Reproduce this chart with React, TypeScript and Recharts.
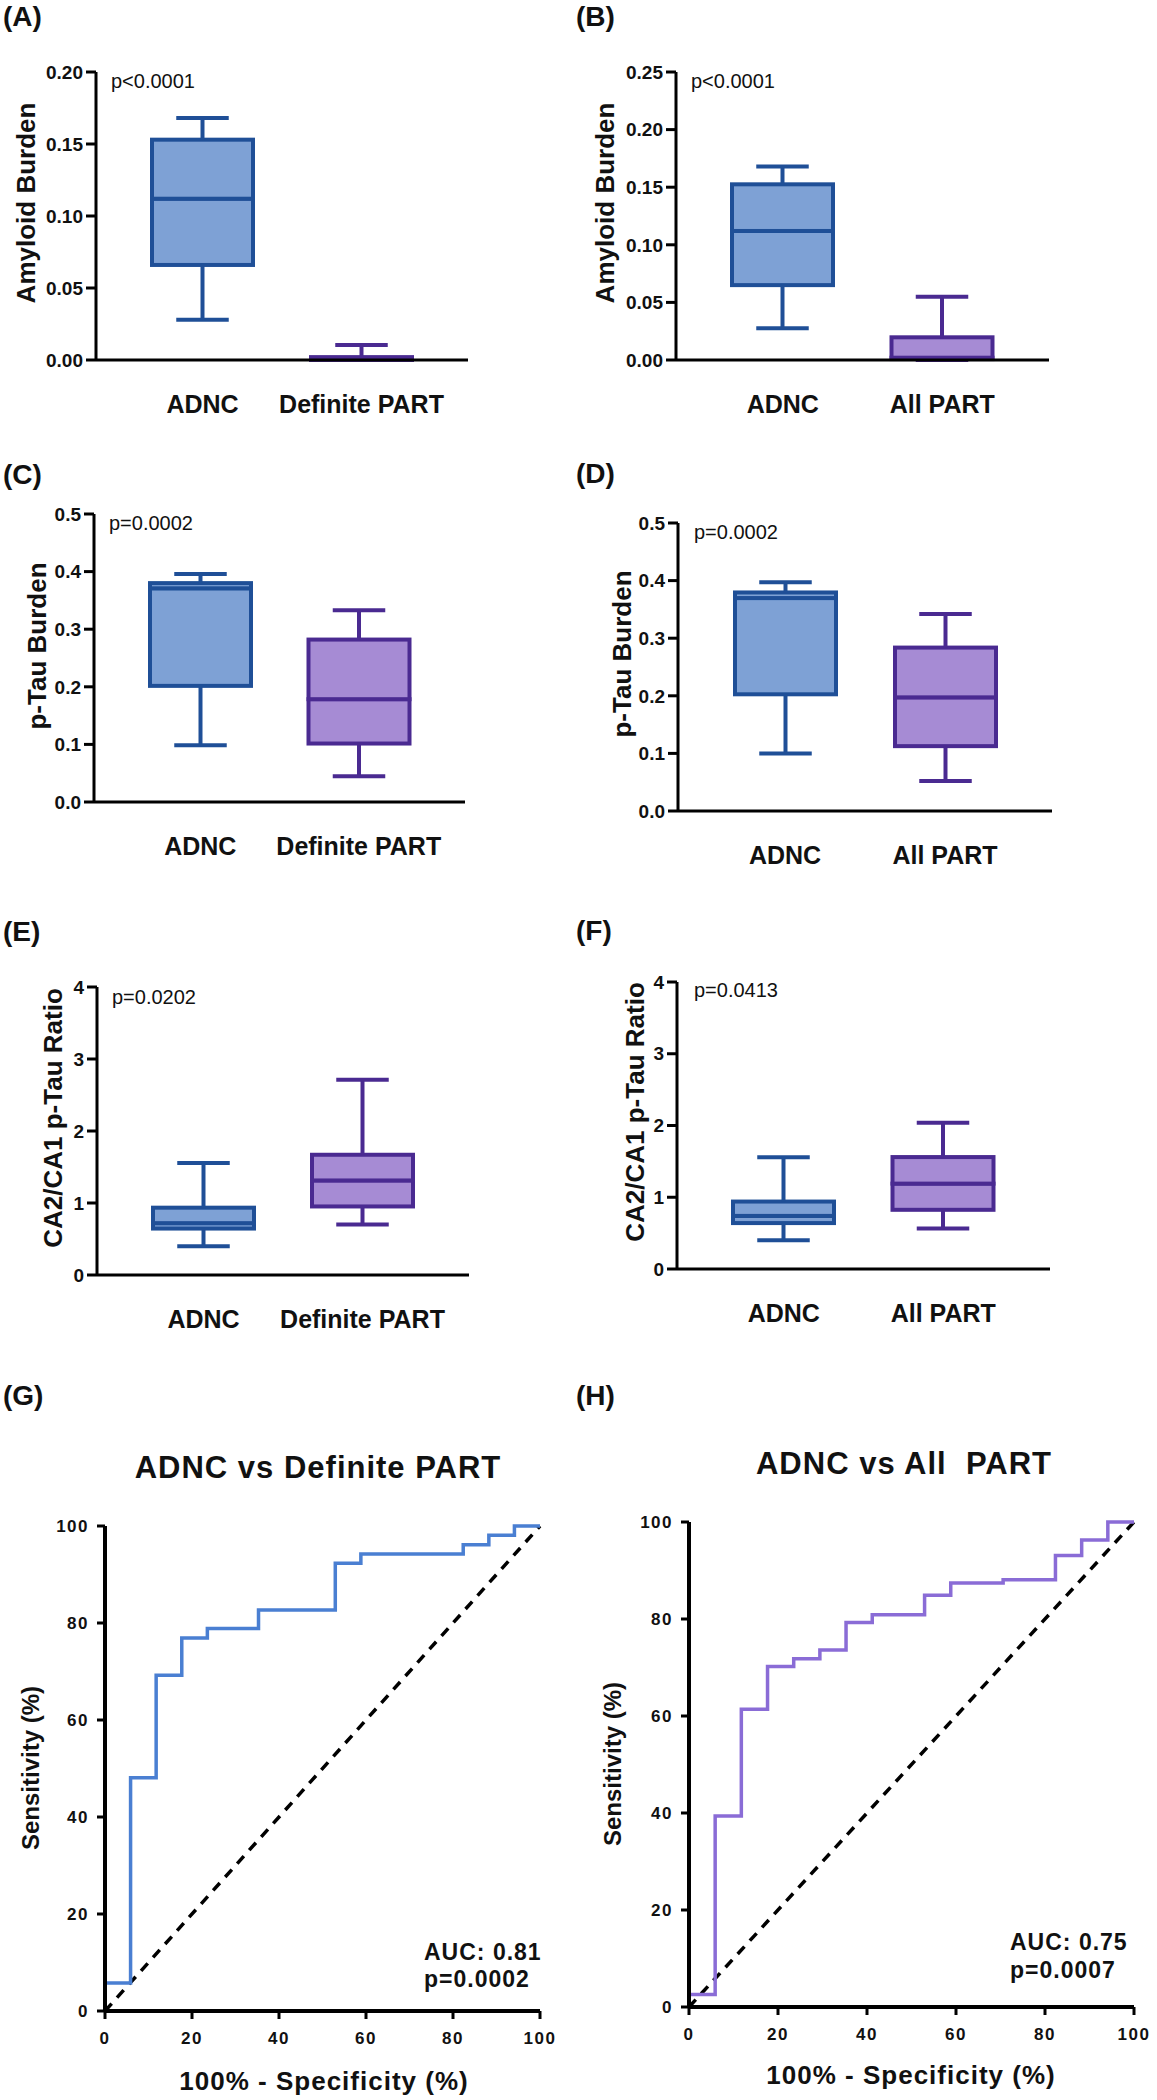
import React from 'react'
import { BarChart, Bar, XAxis, YAxis, LineChart, Line } from 'recharts'

const FONT = '"Liberation Sans", Arial, Helvetica, sans-serif'

// ---- box plot data (min, q1, median, q3, max per group) ----
const catsA = ['ADNC', 'Definite PART']
const minA = [0.028, 0]
const q1A = [0.066, 0]
const medA = [0.112, 0.001]
const q3A = [0.153, 0.002]
const maxA = [0.168, 0.0105]

const catsB = ['ADNC', 'All PART']
const minB = [0.0275, 0]
const q1B = [0.065, 0.0008]
const medB = [0.112, 0.002]
const q3B = [0.1525, 0.0197]
const maxB = [0.168, 0.055]

const catsC = ['ADNC', 'Definite PART']
const minC = [0.0985, 0.0447]
const q1C = [0.2016, 0.1015]
const medC = [0.371, 0.1785]
const q3C = [0.38, 0.282]
const maxC = [0.396, 0.333]

const catsD = ['ADNC', 'All PART']
const minD = [0.0999, 0.0522]
const q1D = [0.2026, 0.1126]
const medD = [0.3697, 0.1973]
const q3D = [0.3794, 0.2837]
const maxD = [0.397, 0.342]

const catsE = ['ADNC', 'Definite PART']
const minE = [0.4, 0.7]
const q1E = [0.645, 0.952]
const medE = [0.72, 1.313]
const q3E = [0.935, 1.67]
const maxE = [1.555, 2.713]

const catsF = ['ADNC', 'All PART']
const minF = [0.4, 0.565]
const q1F = [0.64, 0.825]
const medF = [0.74, 1.19]
const q3F = [0.94, 1.56]
const maxF = [1.558, 2.04]

const ticksA = [0, 0.05, 0.1, 0.15, 0.2]
const ticksB = [0, 0.05, 0.1, 0.15, 0.2, 0.25]
const ticksTau = [0, 0.1, 0.2, 0.3, 0.4, 0.5]
const ticksRatio = [0, 1, 2, 3, 4]

// ---- ROC data (100% - specificity, sensitivity) ----
const rocXG = [0, 0, 5.88, 11.76, 17.65, 23.53, 35.29, 52.94, 58.82, 82.35, 88.24, 94.12, 100]
const rocYG = [0, 5.77, 48.08, 69.23, 76.92, 78.85, 82.69, 92.31, 94.23, 96.15, 98.08, 100, 100]
const rocXH = [0, 0, 5.88, 11.76, 17.65, 23.53, 29.41, 35.29, 41.18, 52.94, 58.82, 70.59, 82.35, 88.24, 94.12, 100]
const rocYH = [0, 2.6, 39.4, 61.4, 70.2, 71.8, 73.6, 79.3, 80.9, 84.9, 87.4, 88.1, 93.1, 96.3, 100, 100]
const diagX = [0, 100]
const diagY = [0, 100]
const rocTicks = [0, 20, 40, 60, 80, 100]

const BOX_FILL = ['#7ea1d5', '#a68bd4']
const BOX_STROKE = ['#1f4f97', '#4a2a91']

function buildRows(cats: string[], mn: number[], q1: number[], md: number[], q3: number[], mx: number[]) {
  return cats.map((name, i) => ({
    name,
    idx: i,
    base: mn[i],
    lo: q1[i] - mn[i],
    b1: md[i] - q1[i],
    b2: q3[i] - md[i],
    hi: mx[i] - q3[i],
  }))
}

const boxShape = (part: string) => (props: any) => {
  const { x, y, width, height, payload } = props
  const stroke = BOX_STROKE[payload.idx]
  const fill = BOX_FILL[payload.idx]
  const cx = x + width / 2
  const cap = (width + 4) / 4
  if (part === 'base') return <g />
  if (part === 'lo') {
    return (
      <g>
        <line x1={cx} x2={cx} y1={y} y2={y + height} stroke={stroke} strokeWidth={4} />
        <line x1={cx - cap} x2={cx + cap} y1={y + height} y2={y + height} stroke={stroke} strokeWidth={4} />
      </g>
    )
  }
  if (part === 'hi') {
    return (
      <g>
        <line x1={cx} x2={cx} y1={y} y2={y + height} stroke={stroke} strokeWidth={4} />
        <line x1={cx - cap} x2={cx + cap} y1={y} y2={y} stroke={stroke} strokeWidth={4} />
      </g>
    )
  }
  return <rect x={x} y={y} width={width} height={height} fill={fill} stroke={stroke} strokeWidth={4} />
}

interface BoxPanelProps {
  left: number
  top: number
  width: number
  axisX: number
  right: number
  plotTop: number
  plotBottom: number
  rows: any[]
  yMax: number
  ticks: number[]
  decimals: number
}

function BoxPanel(p: BoxPanelProps) {
  const height = p.plotBottom - p.top + 60
  return (
    <div style={{ position: 'absolute', left: p.left, top: p.top }}>
      <BarChart
        width={p.width}
        height={height}
        data={p.rows}
        margin={{ top: p.plotTop - p.top, right: p.left + p.width - p.right, bottom: 0, left: 0 }}
      >
        <XAxis
          dataKey="name"
          interval={0}
          padding={{ left: 27, right: 27 }}
          tickLine={false}
          tickSize={0}
          tickMargin={35}
          height={60}
          axisLine={{ stroke: '#000', strokeWidth: 3 }}
          tick={{ fill: '#111', fontSize: 25, fontWeight: 700, fontFamily: FONT }}
        />
        <YAxis
          type="number"
          width={p.axisX - p.left}
          domain={[0, p.yMax]}
          ticks={p.ticks}
          tickFormatter={(v: number) => v.toFixed(p.decimals)}
          tickSize={10}
          tickMargin={3}
          axisLine={{ stroke: '#000', strokeWidth: 3 }}
          tickLine={{ stroke: '#000', strokeWidth: 3 }}
          tick={{ fill: '#111', fontSize: 19, fontWeight: 700, fontFamily: FONT }}
        />
        <Bar dataKey="base" stackId="s" barSize={101} shape={boxShape('base')} isAnimationActive={false} />
        <Bar dataKey="lo" stackId="s" barSize={101} shape={boxShape('lo')} isAnimationActive={false} />
        <Bar dataKey="b1" stackId="s" barSize={101} shape={boxShape('box')} isAnimationActive={false} />
        <Bar dataKey="b2" stackId="s" barSize={101} shape={boxShape('box')} isAnimationActive={false} />
        <Bar dataKey="hi" stackId="s" barSize={101} shape={boxShape('hi')} isAnimationActive={false} />
      </BarChart>
    </div>
  )
}

const RocXTick = (props: any) => (
  <text x={props.x} y={props.y} dy="0.71em" textAnchor="middle" fill="#111" fontSize={17} fontWeight={700} fontFamily={FONT} letterSpacing={1.5}>
    {props.payload.value}
  </text>
)

const RocYTick = (props: any) => (
  <text x={props.x} y={props.y} dy="0.36em" textAnchor="end" fill="#111" fontSize={17} fontWeight={700} fontFamily={FONT} letterSpacing={1.5}>
    {props.payload.value}
  </text>
)

interface RocPanelProps {
  left: number
  top: number
  width: number
  axisX: number
  right: number
  plotTop: number
  plotBottom: number
  fpr: number[]
  sens: number[]
  color: string
}

function RocPanel(p: RocPanelProps) {
  const height = 680
  const roc = p.fpr.map((x, i) => ({ x, y: p.sens[i] }))
  const diag = diagX.map((x, i) => ({ x, y: diagY[i] }))
  return (
    <div style={{ position: 'absolute', left: p.left, top: p.top }}>
      <LineChart
        width={p.width}
        height={height}
        margin={{
          top: p.plotTop - p.top,
          right: p.left + p.width - p.right,
          bottom: p.top + height - p.plotBottom - 40,
          left: 0,
        }}
      >
        <XAxis
          type="number"
          dataKey="x"
          domain={[0, 100]}
          ticks={rocTicks}
          tickSize={8}
          tickMargin={13}
          height={40}
          axisLine={{ stroke: '#000', strokeWidth: 4 }}
          tickLine={{ stroke: '#000', strokeWidth: 3 }}
          tick={<RocXTick />}
        />
        <YAxis
          type="number"
          domain={[0, 100]}
          ticks={rocTicks}
          width={p.axisX - p.left}
          tickSize={8}
          tickMargin={8}
          axisLine={{ stroke: '#000', strokeWidth: 4 }}
          tickLine={{ stroke: '#000', strokeWidth: 3 }}
          tick={<RocYTick />}
        />
        <Line data={diag} dataKey="y" stroke="#000" strokeWidth={3.5} strokeDasharray="10 8" dot={false} isAnimationActive={false} />
        <Line data={roc} dataKey="y" type="stepAfter" stroke={p.color} strokeWidth={3.5} dot={false} isAnimationActive={false} />
      </LineChart>
    </div>
  )
}

const bold = { fontFamily: FONT, fontWeight: 700, fill: '#111' } as const

function VLabel({ x, y, text, size }: { x: number; y: number; text: string; size: number }) {
  return (
    <text transform={`translate(${x},${y}) rotate(-90)`} dy="0.35em" textAnchor="middle" fontSize={size} {...bold}>
      {text}
    </text>
  )
}

export default function App() {
  return (
    <div style={{ position: 'relative', width: 1157, height: 2100, background: '#fff', overflow: 'hidden' }}>
      <style>{'body{margin:0}'}</style>
      <BoxPanel left={0} top={0} width={580} axisX={96} right={468} plotTop={72} plotBottom={360}
        rows={buildRows(catsA, minA, q1A, medA, q3A, maxA)} yMax={0.2} ticks={ticksA} decimals={2} />
      <BoxPanel left={580} top={0} width={577} axisX={676} right={1049} plotTop={72} plotBottom={360}
        rows={buildRows(catsB, minB, q1B, medB, q3B, maxB)} yMax={0.25} ticks={ticksB} decimals={2} />
      <BoxPanel left={0} top={420} width={580} axisX={94} right={465} plotTop={514} plotBottom={802}
        rows={buildRows(catsC, minC, q1C, medC, q3C, maxC)} yMax={0.5} ticks={ticksTau} decimals={1} />
      <BoxPanel left={580} top={420} width={577} axisX={678} right={1052} plotTop={523} plotBottom={811}
        rows={buildRows(catsD, minD, q1D, medD, q3D, maxD)} yMax={0.5} ticks={ticksTau} decimals={1} />
      <BoxPanel left={0} top={900} width={580} axisX={97} right={469} plotTop={987} plotBottom={1275}
        rows={buildRows(catsE, minE, q1E, medE, q3E, maxE)} yMax={4} ticks={ticksRatio} decimals={0} />
      <BoxPanel left={580} top={900} width={577} axisX={677} right={1050} plotTop={982} plotBottom={1269}
        rows={buildRows(catsF, minF, q1F, medF, q3F, maxF)} yMax={4} ticks={ticksRatio} decimals={0} />

      <RocPanel left={0} top={1420} width={580} axisX={105} right={540} plotTop={1526} plotBottom={2011}
        fpr={rocXG} sens={rocYG} color="#4a7fd2" />
      <RocPanel left={580} top={1420} width={577} axisX={689} right={1134} plotTop={1522} plotBottom={2007}
        fpr={rocXH} sens={rocYH} color="#8a6cd6" />

      <svg width={1157} height={2100} style={{ position: 'absolute', left: 0, top: 0, pointerEvents: 'none' }}>
        {/* panel letters */}
        <text x={3} y={26} fontSize={28} {...bold}>(A)</text>
        <text x={576} y={26} fontSize={28} {...bold}>(B)</text>
        <text x={3} y={484} fontSize={28} {...bold}>(C)</text>
        <text x={576} y={483} fontSize={28} {...bold}>(D)</text>
        <text x={3} y={941} fontSize={28} {...bold}>(E)</text>
        <text x={576} y={940} fontSize={28} {...bold}>(F)</text>
        <text x={3} y={1405} fontSize={28} {...bold}>(G)</text>
        <text x={576} y={1405} fontSize={28} {...bold}>(H)</text>

        {/* p values */}
        <text x={111} y={88} fontSize={20} fontFamily={FONT} fill="#111">p&lt;0.0001</text>
        <text x={691} y={88} fontSize={20} fontFamily={FONT} fill="#111">p&lt;0.0001</text>
        <text x={109} y={530} fontSize={20} fontFamily={FONT} fill="#111">p=0.0002</text>
        <text x={694} y={539} fontSize={20} fontFamily={FONT} fill="#111">p=0.0002</text>
        <text x={112} y={1004} fontSize={20} fontFamily={FONT} fill="#111">p=0.0202</text>
        <text x={694} y={997} fontSize={20} fontFamily={FONT} fill="#111">p=0.0413</text>

        {/* y axis titles */}
        <VLabel x={26} y={203} text="Amyloid Burden" size={26} />
        <VLabel x={605} y={203} text="Amyloid Burden" size={26} />
        <VLabel x={37} y={646} text="p-Tau Burden" size={26} />
        <VLabel x={622} y={654} text="p-Tau Burden" size={26} />
        <VLabel x={53} y={1118} text="CA2/CA1 p-Tau Ratio" size={26} />
        <VLabel x={635} y={1112} text="CA2/CA1 p-Tau Ratio" size={26} />
        <VLabel x={31} y={1768} text="Sensitivity (%)" size={24} />
        <VLabel x={613} y={1764} text="Sensitivity (%)" size={24} />

        {/* ROC titles */}
        <text x={318} y={1478} textAnchor="middle" fontSize={31} letterSpacing={1} {...bold}>ADNC vs Definite PART</text>
        <text x={904} y={1474} textAnchor="middle" fontSize={31} letterSpacing={1} style={{ whiteSpace: 'pre' }} {...bold}>ADNC vs All  PART</text>
        <text x={324} y={2090} textAnchor="middle" fontSize={26} letterSpacing={1} {...bold}>100% - Specificity (%)</text>
        <text x={911} y={2084} textAnchor="middle" fontSize={26} letterSpacing={1} {...bold}>100% - Specificity (%)</text>

        {/* AUC notes */}
        <text x={424} y={1960} fontSize={23} letterSpacing={1} {...bold}>AUC: 0.81</text>
        <text x={424} y={1987} fontSize={23} letterSpacing={1} {...bold}>p=0.0002</text>
        <text x={1010} y={1950} fontSize={23} letterSpacing={1} {...bold}>AUC: 0.75</text>
        <text x={1010} y={1978} fontSize={23} letterSpacing={1} {...bold}>p=0.0007</text>
      </svg>
    </div>
  )
}
